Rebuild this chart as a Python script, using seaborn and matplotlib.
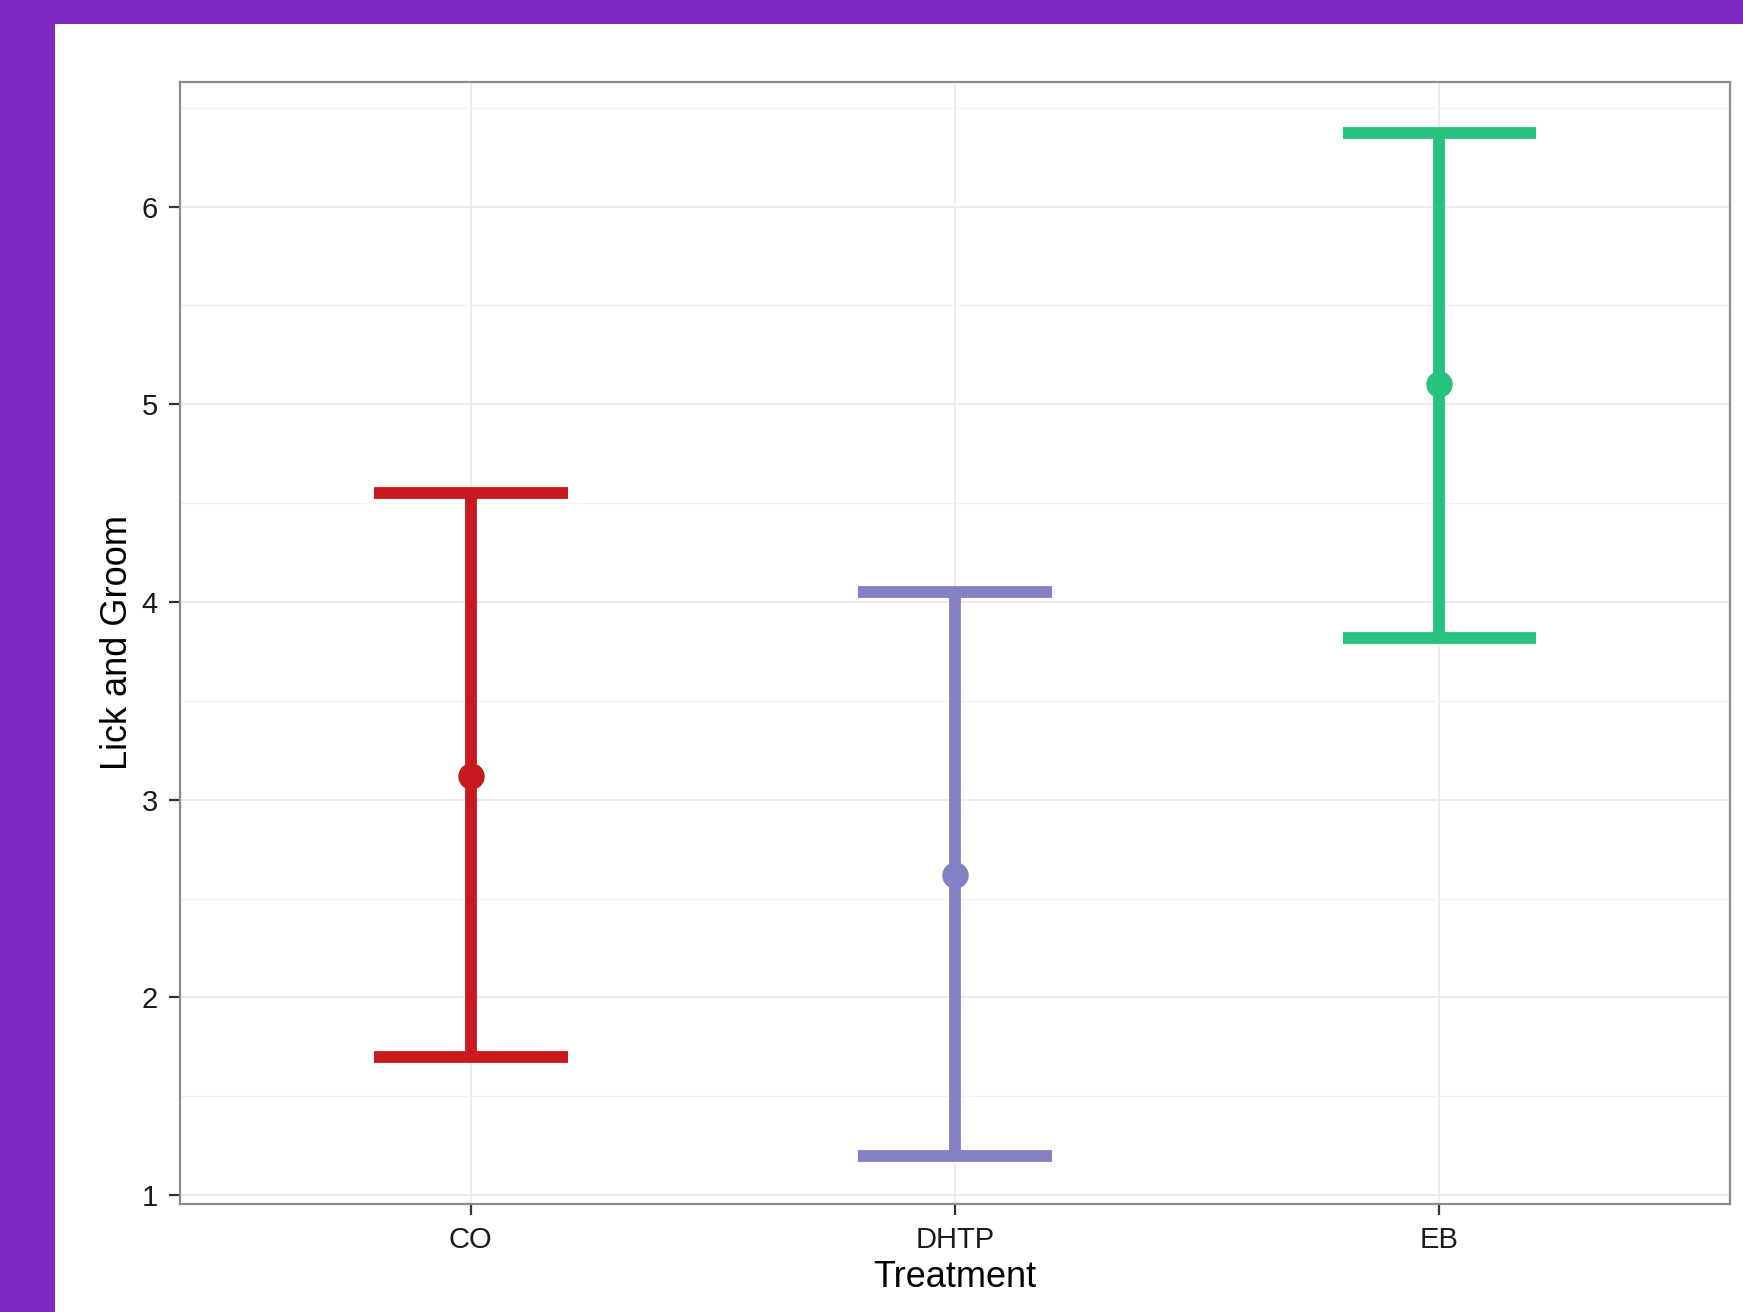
import matplotlib
matplotlib.use("Agg")
import matplotlib.pyplot as plt
from matplotlib.patches import Rectangle
from matplotlib.ticker import MultipleLocator
import numpy as np
import pandas as pd
import seaborn as sns

# ---- data ----
treatments = ["CO", "DHTP", "EB"]
means = [3.12, 2.62, 5.10]
lowers = [1.70, 1.20, 3.82]
uppers = [4.55, 4.05, 6.37]
colors = ["#C8191E", "#8480C4", "#26C27E"]

# long table: lower / mean / upper per treatment; median -> mean, range -> interval
rows = []
for t, lo, m, hi in zip(treatments, lowers, means, uppers):
    for v in (lo, m, hi):
        rows.append({"Treatment": t, "Lick and Groom": v})
df = pd.DataFrame(rows)

sns.set_theme(style="white")
plt.rcParams["font.family"] = ["Liberation Sans", "DejaVu Sans"]

fig = plt.figure(figsize=(17.43, 13.12), dpi=100)
fig.patch.set_facecolor("white")
ax = fig.add_axes([180 / 1743, 1 - 1204 / 1312, (1730 - 180) / 1743, (1204 - 82) / 1312])

# purple frame
fig.patches.append(Rectangle((0, 0), 55 / 1743, 1, transform=fig.transFigure,
                             facecolor="#7E28C0", edgecolor="none", zorder=-10))
fig.patches.append(Rectangle((0, 1 - 24 / 1312), 1, 24 / 1312, transform=fig.transFigure,
                             facecolor="#7E28C0", edgecolor="none", zorder=-10))

sns.pointplot(
    data=df, x="Treatment", y="Lick and Groom", hue="Treatment",
    order=treatments, hue_order=treatments, palette=colors,
    estimator="median", errorbar=lambda v: (v.min(), v.max()),
    capsize=0.4, linestyle="none", markers="o", markersize=17,
    err_kws={"linewidth": 8.5, "solid_capstyle": "butt"},
    legend=False, ax=ax,
)

ax.set_xlim(-0.6, 2.6)
ax.set_ylim(0.955, 6.63)
ax.yaxis.set_major_locator(MultipleLocator(1))
ax.yaxis.set_minor_locator(MultipleLocator(0.5))

ax.set_axisbelow(True)
ax.grid(True, which="major", axis="both", color="#EBEBEB", linewidth=1.3)
ax.grid(True, which="minor", axis="y", color="#F2F2F2", linewidth=1.0)

for s in ax.spines.values():
    s.set_color("#8C8C8C")
    s.set_linewidth(1.6)

ax.tick_params(axis="both", which="major", length=8, width=1.6, color="#333333",
               labelsize=21, labelcolor="#1A1A1A", left=True, bottom=True)
ax.tick_params(axis="x", which="major", pad=8)
ax.tick_params(axis="y", which="major", pad=8)
ax.tick_params(axis="y", which="minor", length=0)

ax.set_xlabel("Treatment", fontsize=26, color="black", labelpad=4)
ax.set_ylabel("Lick and Groom", fontsize=26, color="black", labelpad=5)

fig.savefig("out.png", dpi=100, facecolor="white")
